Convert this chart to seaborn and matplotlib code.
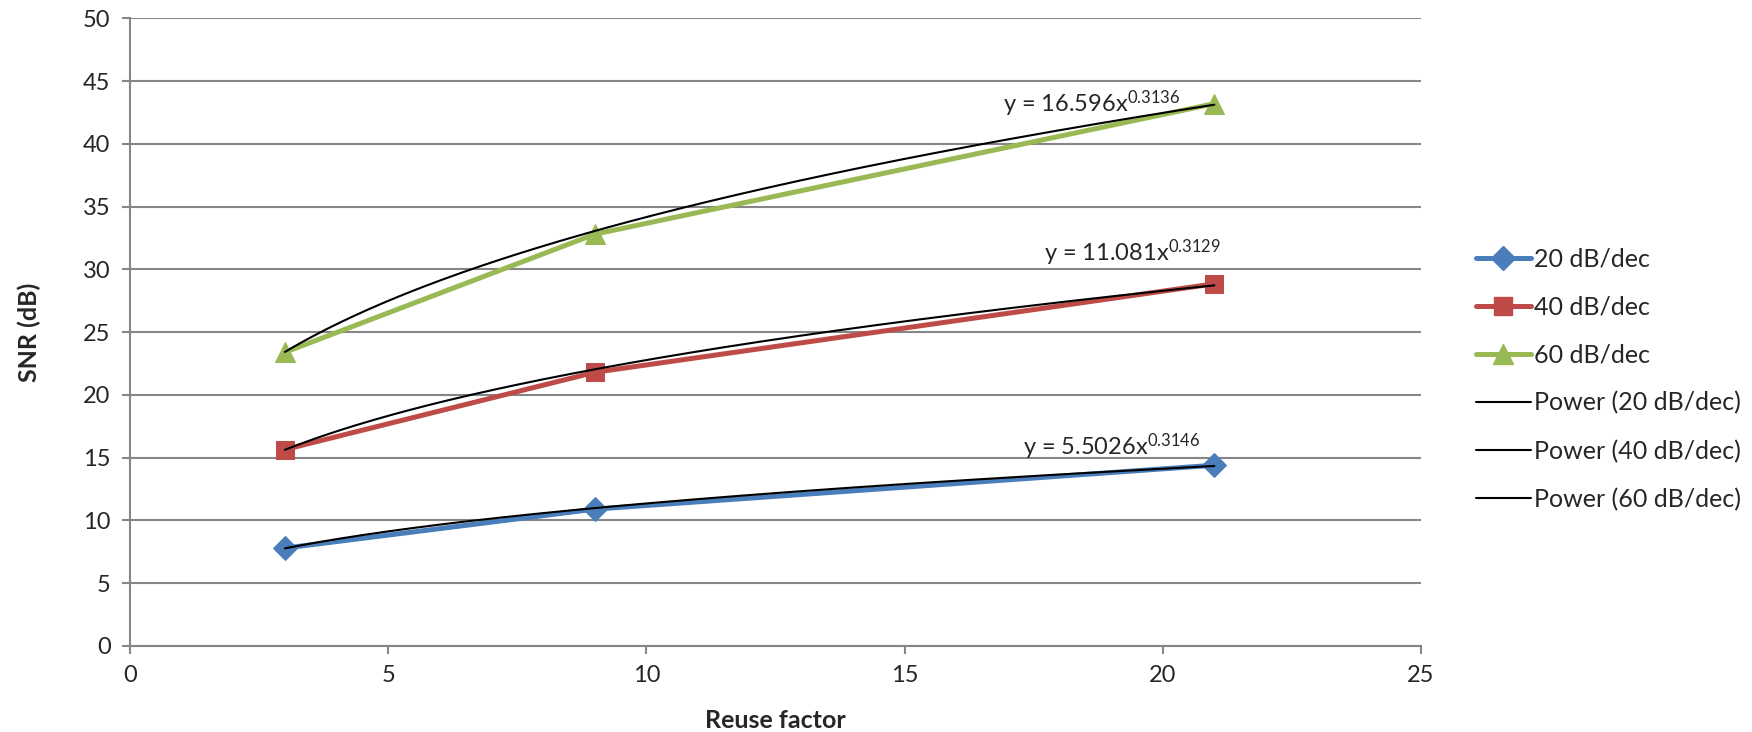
import numpy as np
import pandas as pd
import matplotlib
matplotlib.use("Agg")
import matplotlib.pyplot as plt
from matplotlib.lines import Line2D
import seaborn as sns

# данные
reuse = [3, 9, 21]
snr_20 = [7.8, 10.9, 14.4]
snr_40 = [15.65, 21.8, 28.85]
snr_60 = [23.4, 32.8, 43.2]
series_names = ["20 dB/dec", "40 dB/dec", "60 dB/dec"]
# коэффициенты степенной аппроксимации y = a*x^b (из подписей на графике)
fit_a = [5.5026, 11.081, 16.596]
fit_b = [0.3146, 0.3129, 0.3136]
fit_labels = ["y = 5.5026x$^{0.3146}$", "y = 11.081x$^{0.3129}$", "y = 16.596x$^{0.3136}$"]
label_pos = [(17.3, 15.9), (17.7, 31.3), (16.9, 43.2)]

colors = ["#4A7EBB", "#BE4B48", "#98B954"]
markers = ["D", "s", "^"]
msizes = [12, 13, 14]

sns.set_style("white")
plt.rcParams["font.family"] = ["Lato", "DejaVu Sans"]
plt.rcParams["mathtext.fontset"] = "custom"
plt.rcParams["mathtext.rm"] = "Lato"
plt.rcParams["mathtext.it"] = "Lato"
plt.rcParams["mathtext.default"] = "rm"

df = pd.DataFrame({"reuse": reuse * 3,
                   "snr": snr_20 + snr_40 + snr_60,
                   "series": np.repeat(series_names, len(reuse))})

fig = plt.figure(figsize=(17.52, 7.32), dpi=100)
ax = fig.add_axes([0.0742, 0.1175, 0.7368, 0.8575])

handles = []
for name, c, m, ms in zip(series_names, colors, markers, msizes):
    sub = df[df["series"] == name]
    sns.lineplot(data=sub, x="reuse", y="snr", ax=ax, color=c, lw=3.6,
                 marker=m, markersize=ms, markeredgecolor=c, legend=False)
    handles.append(Line2D([], [], color=c, lw=3.6, marker=m, markersize=ms,
                          markeredgecolor=c, label=name))

# линии тренда
xs = np.linspace(min(reuse), max(reuse), 200)
for name, a, b, txt, (tx, ty) in zip(series_names, fit_a, fit_b, fit_labels, label_pos):
    sns.lineplot(x=xs, y=a * xs ** b, ax=ax, color="black", lw=1.5, legend=False)
    handles.append(Line2D([], [], color="black", lw=1.5, label=f"Power ({name})"))
    ax.text(tx, ty, txt, fontsize=17, va="center", ha="left")

ax.set_xlim(0, 25)
ax.set_ylim(0, 50)
ax.set_xticks(range(0, 26, 5))
ax.set_yticks(range(0, 51, 5))
ax.yaxis.grid(True, color="#868686", lw=1.5)
ax.set_axisbelow(True)
for s in ["top", "right"]:
    ax.spines[s].set_visible(False)
for s in ["left", "bottom"]:
    ax.spines[s].set_color("#868686")
    ax.spines[s].set_linewidth(1.5)
ax.tick_params(axis="both", direction="out", length=6, width=1.5, color="#868686",
               labelsize=17, pad=8, bottom=True, left=True)

ax.set_xlabel("Reuse factor", fontsize=18, fontweight="bold", labelpad=16)
ax.set_ylabel("SNR (dB)", fontsize=18, fontweight="bold", labelpad=30)

ax.legend(handles=handles, loc="center left", bbox_to_anchor=(1.025, 0.425),
          frameon=False, fontsize=18, handlelength=2.2, labelspacing=1.0,
          handletextpad=0.15)

fig.savefig("out.png", dpi=100)
